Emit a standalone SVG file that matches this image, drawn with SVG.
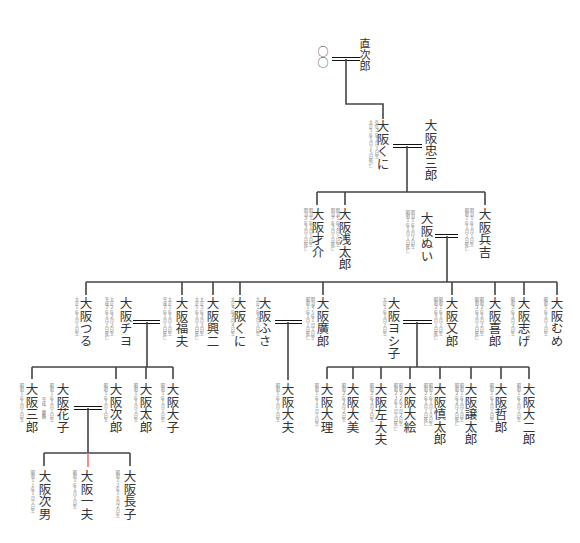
<svg xmlns="http://www.w3.org/2000/svg" width="580" height="543" viewBox="0 0 580 543">
<style>
.n{font-family:"Noto Sans CJK JP","Noto Sans CJK SC",sans-serif;font-size:12.5px;fill:#333;writing-mode:vertical-rl;text-orientation:upright;}
.s{font-size:11px;}
.d{font-family:"Noto Sans CJK JP",sans-serif;font-size:4.3px;fill:#777;writing-mode:vertical-rl;text-orientation:upright;}
.c{stroke:#444;stroke-width:1.6;fill:none;}
.m{stroke:#111;stroke-width:1;fill:none;}
.p{stroke:#f08080;stroke-width:1.8;fill:none;}
</style>
<rect width="580" height="543" fill="#fff"/>
<g id="connectors">
<path class="m" d="M332 57.5H360M332 60.5H360"/>
<path class="c" d="M346 59V104H383V119"/>
<path class="m" d="M393 144.5H422M393 147.5H422"/>
<path class="c" d="M407 146V192M317 192H485M317 192V205M345 192V205M485 192V205"/>
<path class="m" d="M435 234.5H458M435 237.5H458"/>
<path class="c" d="M447 236V282M86 282H557M86 282V295M182 282V295M213 282V295M240 282V295M323 282V295M452 282V295M495 282V295M524 282V295M557 282V295"/>
<path class="m" d="M133 320.5H160M133 323.5H160"/>
<path class="c" d="M147 322V367M32 367H173M32 367V379M116 367V379M146 367V379M173 367V379"/>
<path class="m" d="M275 320.5H302M275 323.5H302"/>
<path class="c" d="M288 322V380"/>
<path class="m" d="M403 320.5H432M403 323.5H432"/>
<path class="c" d="M417 322V367M327 367H529M327 367V379M353 367V379M381 367V379M410 367V379M440 367V379M471 367V379M501 367V379M529 367V379"/>
<path class="m" d="M74 406.5H102M74 409.5H102"/>
<path class="c" d="M88 408V453M44 453H130M44 453V466M130 453V466"/>
<path class="p" d="M88 453V467"/>
</g>
<g id="parents"><text class="n s" x="323" y="46">○○</text></g>
<g id="naojiro"><text class="n s" x="365" y="38">直次郎</text></g>
<g id="kuni1"><text class="n" x="383" y="120">大阪くに</text><text class="d" x="377" y="120">弘化３年１月１日生</text><text class="d" x="371" y="120">大正５年５月１５日死亡</text></g>
<g id="chuzaburo"><text class="n" x="431" y="119">大阪忠三郎</text></g>
<g id="saisuke"><text class="n" x="318" y="208">大阪才介</text><text class="d" x="311" y="208">明治１年１月１日生</text><text class="d" x="306" y="208">明治３年３月１日死亡</text></g>
<g id="asataro"><text class="n" x="345" y="208">大阪浅太郎</text><text class="d" x="338" y="208">明治５年２月１日生</text><text class="d" x="333" y="208">明治７年３月１日死亡</text></g>
<g id="nui"><text class="n" x="427" y="212">大阪ぬい</text><text class="d" x="413" y="210">明治１年１月２日生</text><text class="d" x="408" y="210">昭和１年１月１日死亡</text></g>
<g id="hyokichi"><text class="n" x="485" y="208">大阪兵吉</text><text class="d" x="472" y="208">明治１年１月１日生</text><text class="d" x="467" y="208">昭和１年１月１日死亡</text></g>
<g id="tsuru"><text class="n" x="86" y="297">大阪つる</text><text class="d" x="77" y="297">大正１年１月１日生</text></g>
<g id="chiyo"><text class="n" x="126" y="297">大阪チヨ</text><text class="d" x="112" y="297">大正２年２月２日生</text><text class="d" x="107" y="297">平成１年１月１日死亡</text></g>
<g id="fukuo"><text class="n" x="182" y="297">大阪福夫</text><text class="d" x="170" y="297">大正１年１月１日生</text><text class="d" x="165" y="297">平成１年１月１日死亡</text></g>
<g id="koji"><text class="n" x="213" y="297">大阪興二</text><text class="d" x="202" y="297">大正３年３月３日生</text><text class="d" x="197" y="297">大正５年１月１日死亡</text></g>
<g id="kuni2"><text class="n" x="240" y="297">大阪くに</text><text class="d" x="233" y="297">大正４年４月４日生</text></g>
<g id="fusa"><text class="n" x="265" y="297">大阪ふさ</text><text class="d" x="258" y="297">大正１年１月１日生</text></g>
<g id="koro"><text class="n" x="323" y="297">大阪廣郎</text><text class="d" x="313" y="297">明治４５年１月１日生</text><text class="d" x="308" y="297">昭和１年１月１日死亡</text></g>
<g id="yoshiko"><text class="n" x="394" y="297">大阪ヨシ子</text><text class="d" x="385" y="297">大正１年１月１日生</text></g>
<g id="mataro"><text class="n" x="452" y="297">大阪又郎</text><text class="d" x="441" y="297">昭和１年１月１日生</text><text class="d" x="436" y="297">昭和２年９月１日死亡</text></g>
<g id="kiro"><text class="n" x="495" y="297">大阪喜郎</text><text class="d" x="482" y="297">昭和２年２月２日生</text><text class="d" x="477" y="297">昭和３年３月１日死亡</text></g>
<g id="shige"><text class="n" x="524" y="297">大阪志げ</text><text class="d" x="513" y="297">昭和３年３月３日生</text></g>
<g id="mume"><text class="n" x="557" y="297">大阪むめ</text><text class="d" x="546" y="297">昭和５年１月１日生</text></g>
<g id="saburo"><text class="n" x="32" y="383">大阪三郎</text><text class="d" x="22" y="383">昭和１年１月１日生</text></g>
<g id="hanako"><text class="n" x="63" y="383">大阪花子</text><text class="d" x="52" y="383">昭和１年１月１日生</text><text class="d" x="44" y="397">平成　離婚</text></g>
<g id="jiro"><text class="n" x="116" y="383">大阪次郎</text><text class="d" x="106" y="383">昭和１年１月１日生</text></g>
<g id="taro"><text class="n" x="146" y="383">大阪太郎</text><text class="d" x="136" y="383">昭和１年１月１日生</text></g>
<g id="daiko"><text class="n" x="173" y="383">大阪大子</text><text class="d" x="163" y="383">昭和１年１月１日生</text></g>
<g id="daifu"><text class="n" x="288" y="383">大阪大夫</text><text class="d" x="278" y="383">昭和１年１月１日生</text></g>
<g id="dairi"><text class="n" x="327" y="383">大阪大理</text><text class="d" x="317" y="383">昭和１年１０月１日生</text></g>
<g id="daimi"><text class="n" x="353" y="383">大阪大美</text><text class="d" x="344" y="383">昭和２年２月２日生</text></g>
<g id="sadaifu"><text class="n" x="381" y="383">大阪左大夫</text><text class="d" x="372" y="383">昭和３年３月３日生</text></g>
<g id="daie"><text class="n" x="410" y="383">大阪大絵</text><text class="d" x="401" y="383">昭和２２年２月２日生</text><text class="d" x="396" y="383">昭和２３年１月１日死亡</text></g>
<g id="shintaro"><text class="n" x="440" y="383">大阪慎太郎</text><text class="d" x="431" y="383">昭和１年１月１０日生</text><text class="d" x="426" y="383">昭和２年１月１日死亡</text></g>
<g id="jotaro"><text class="n" x="471" y="383">大阪譲太郎</text><text class="d" x="462" y="383">昭和１年１月１日生</text><text class="d" x="457" y="383">昭和２年２月２日死亡</text></g>
<g id="tetsuro"><text class="n" x="501" y="383">大阪哲郎</text><text class="d" x="492" y="383">昭和１年１月１日生</text></g>
<g id="daijiro"><text class="n" x="529" y="383">大阪大二郎</text><text class="d" x="519" y="383">昭和１年１月１日生</text></g>
<g id="jio"><text class="n" x="45" y="470">大阪次男</text><text class="d" x="33" y="470">昭和１１年１月１日生</text></g>
<g id="kazuo"><text class="n" x="87" y="470">大阪一夫</text><text class="d" x="75" y="470">昭和１年１月１日生</text></g>
<g id="choko"><text class="n" x="130" y="470">大阪長子</text><text class="d" x="118" y="470">昭和１２年１０月２日生</text></g>
</svg>
